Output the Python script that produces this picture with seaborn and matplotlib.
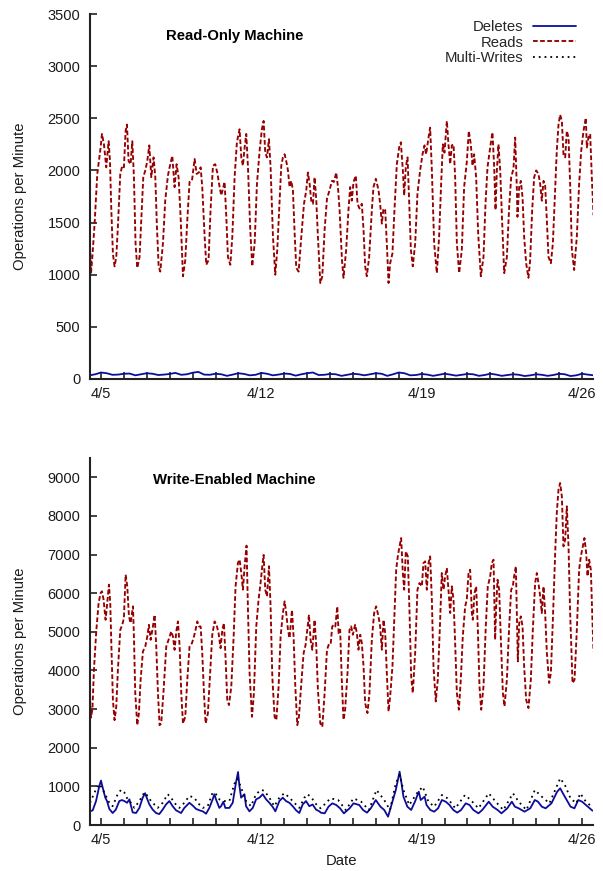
import matplotlib
matplotlib.use('Agg')
import matplotlib.pyplot as plt
import matplotlib.ticker as mticker
import seaborn as sns
import pandas as pd

# hours are counted from 4/4 00:00
START = pd.Timestamp('2009-04-04')
TICK_DAYS = list(range(5, 27))
LABELED_DAYS = [5, 12, 19, 26]

# Read-Only machine, reads per minute (hour, ops)
ro_reads = [
    (12.5, 1280), (13.5, 1010), (15, 1180), (17.3, 1490), (20.1, 1967), (23.6, 2220), (25.0, 2350),
    (27.1, 2250), (29.5, 2030), (32.0, 2280), (33.4, 2090), (34.8, 1620), (36.5, 1200), (38.2, 1080),
    (40.0, 1170), (41.7, 1460), (44.2, 1967), (46.3, 2045), (48.0, 2030), (49.8, 2380), (51.2, 2440),
    (52.9, 2090), (55.0, 2060), (56.8, 2280), (58.5, 1935), (60.2, 1300), (62.0, 1065), (64.4, 1170),
    (66.2, 1520), (68.3, 1935), (70.4, 2000), (72.5, 2090), (74.6, 2240), (76.7, 1935), (79.1, 2125),
    (80.9, 1935), (82.6, 1460), (84.4, 1080), (86.1, 1030), (88.9, 1300), (91.3, 1710), (94.1, 1950),
    (96.6, 2060), (98.7, 2140), (101.1, 1840), (103.2, 2060), (105.3, 1935), (107.4, 1555), (109.9, 985),
    (112.3, 1140), (114.4, 1520), (116.8, 1890), (119.3, 1900), (122.1, 2110), (124.2, 1967), (126.6, 1980),
    (128.4, 2030), (130.1, 1840), (132.6, 1365), (134.3, 1095), (136.7, 1140), (138.8, 1620), (141.3, 2045),
    (143.7, 2060), (145.8, 1980), (148.3, 1840), (150.0, 1760), (151.8, 1825), (153.5, 1890), (155.3, 1555),
    (157.0, 1170), (159.5, 1095), (161.6, 1365), (164.0, 1935), (166.4, 2270), (169.2, 2395), (171.0, 2125),
    (172.7, 2045), (174.5, 2220), (176.2, 2350), (178.0, 2030), (180.4, 1430), (182.5, 1080), (185.0, 1300),
    (187.4, 1870), (190.2, 2190), (192.6, 2395), (194.4, 2475), (196.1, 2170), (197.9, 2125), (200.0, 2300),
    (201.7, 2030), (204.2, 1365), (206.6, 1000), (208.7, 1240), (210.8, 1650), (212.9, 2045), (214.6, 2125),
    (216.4, 2155), (218.1, 2090), (219.9, 2000), (221.6, 1840), (223.4, 1900), (225.1, 1810), (226.9, 1400),
    (228.6, 1065), (231.1, 1030), (233.9, 1365), (236.7, 1680), (239.1, 1810), (240.8, 1980), (242.6, 1870),
    (244.3, 1710), (246.1, 1680), (247.8, 1935), (249.6, 1710), (251.3, 1365), (253.8, 920), (255.9, 985),
    (258.3, 1430), (260.8, 1730), (263.5, 1810), (266.0, 1900), (268.1, 1890), (270.5, 1980), (272.3, 1840),
    (274.0, 1620), (276.5, 1140), (278.1, 970), (280.9, 1240), (283.3, 1620), (285.1, 1840), (286.8, 1710),
    (288.6, 1890), (291.0, 1950), (292.8, 1680), (294.9, 1635), (297.3, 1680), (299.1, 1430), (300.8, 1080),
    (302.5, 985), (305.0, 1170), (307.8, 1620), (309.5, 1840), (312.0, 1920), (314.8, 1810), (316.5, 1680),
    (318.3, 1490), (320.0, 1635), (321.8, 1620), (323.5, 1300), (325.3, 920), (327.0, 1110), (329.4, 1205),
    (331.5, 1620), (334.0, 2060), (336.4, 2220), (338.2, 2270), (340.3, 2000), (341.7, 1760), (343.4, 2030),
    (345.2, 2125), (346.9, 1710), (348.7, 1240), (350.7, 1080), (353.2, 1300), (355.6, 1777), (358.4, 2000),
    (360.9, 2155), (363.0, 2240), (364.7, 2155), (367.2, 2315), (368.9, 2410), (370.7, 2000), (373.1, 1300),
    (375.9, 1015), (378.3, 1365), (380.4, 1870), (382.2, 2250), (383.9, 2170), (386.4, 2475), (388.1, 2250),
    (389.9, 2060), (391.6, 2240), (393.4, 2250), (395.1, 1935), (396.9, 1300), (399.3, 1015), (402.1, 1240),
    (404.5, 1840), (407.3, 2080), (409.4, 2380), (411.5, 2250), (413.3, 2045), (415.0, 2155), (417.1, 1935),
    (419.2, 1400), (422.0, 985), (424.8, 1170), (426.9, 1680), (429.0, 2030), (431.8, 2220), (434.2, 2365),
    (436.0, 2030), (437.4, 1620), (438.8, 2000), (440.5, 2250), (442.3, 2000), (444.0, 1585), (446.5, 1015),
    (449.3, 1170), (451.7, 1650), (453.8, 1935), (456.2, 2015), (458.0, 2315), (459.7, 1840), (460.4, 1555),
    (462.2, 1840), (463.9, 1900), (465.7, 1745), (467.4, 1365), (469.5, 1110), (471.9, 970), (473.7, 1140),
    (475.8, 1620), (477.9, 1935), (480.0, 2000), (482.4, 1967), (484.2, 1870), (485.9, 1710), (487.7, 1900),
    (489.4, 1855), (491.2, 1520), (492.9, 1170), (495.4, 1110), (497.5, 1300), (499.9, 1810), (501.6, 2190),
    (503.4, 2440), (505.1, 2535), (506.9, 2475), (508.6, 2155), (510.4, 2125), (512.1, 2380), (513.9, 2315),
    (515.6, 1870), (517.4, 1240), (519.8, 1045), (522.6, 1365), (525.0, 1870), (527.2, 2190), (529.6, 2380),
    (532.0, 2505), (533.1, 2220), (534.8, 2315), (536.6, 2350), (538.3, 1935), (540.1, 1570),
]

# Read-Only machine, deletes per minute, one value every 6 hours from hour 12
ro_delete_hours = list(range(12, 541, 6))
ro_deletes = [
    35, 45, 62, 55, 40, 42, 50, 52,
    35, 45, 55, 50, 38, 42, 48, 58,
    40, 45, 60, 68, 42, 40, 50, 45,
    30, 42, 55, 48, 35, 40, 58, 50,
    35, 42, 52, 48, 32, 45, 55, 62,
    38, 40, 48, 45, 30, 40, 50, 45,
    35, 45, 55, 50, 30, 45, 62, 55,
    35, 38, 48, 42, 30, 40, 50, 42,
    32, 40, 48, 45, 30, 38, 50, 42,
    30, 38, 45, 40, 28, 35, 45, 40,
    30, 38, 50, 45, 28, 35, 50, 42,
    35,
]
# no multi-writes on the read-only machine
ro_multi_writes = [(12, 0), (540, 0)]

# Write-Enabled machine, reads per minute
we_reads = [
    (12.5, 3250), (13.5, 2780), (15.0, 3000), (16.6, 4013), (19.0, 5010), (21.5, 5745), (23.6, 6005),
    (25.0, 6048), (26.7, 5832), (28.8, 5312), (30.2, 5659), (32.3, 6222), (33.7, 5745), (34.8, 4706),
    (36.5, 3234), (38.2, 2714), (40.0, 3060), (41.7, 4013), (44.2, 5052), (46.3, 5182), (48.0, 5355),
    (49.8, 6481), (51.5, 6178), (53.3, 5399), (55.0, 5226), (57.5, 5659), (58.5, 4879), (59.9, 3407),
    (62.0, 2584), (63.7, 2887), (65.5, 3753), (67.9, 4490), (70.4, 4620), (72.5, 4879), (74.2, 5182),
    (76.0, 4793), (78.4, 5139), (80.2, 5442), (81.9, 4620), (83.7, 3407), (85.4, 2584), (87.1, 2628),
    (89.6, 3494), (92.4, 4620), (94.8, 4793), (97.6, 5010), (99.4, 4879), (101.1, 4533), (102.9, 5010),
    (104.6, 5269), (106.4, 4620), (108.1, 3407), (109.9, 2628), (112.3, 2801), (114.4, 3753), (116.8, 4620),
    (119.3, 4706), (121.4, 4879), (123.1, 5052), (124.9, 5269), (126.6, 5139), (128.4, 5139), (130.1, 4446),
    (131.9, 3407), (133.6, 2628), (136.0, 2887), (138.5, 4013), (140.6, 4923), (143.0, 5269), (145.1, 5182),
    (147.2, 4966), (149.3, 4576), (151.1, 5052), (152.8, 5226), (154.6, 4273), (156.3, 3234), (158.1, 3104),
    (160.5, 3580), (163.0, 4879), (165.0, 6178), (167.5, 6784), (169.2, 6871), (171.0, 6525), (172.7, 6092),
    (174.5, 6698), (176.5, 7230), (178.0, 5572), (179.7, 3927), (182.2, 2801), (184.2, 3407), (186.7, 5139),
    (189.1, 5832), (191.2, 6265), (193.0, 6698), (194.4, 6990), (196.1, 6092), (197.9, 5918), (200.0, 6698),
    (201.7, 5659), (203.5, 3840), (205.9, 2801), (207.7, 2714), (210.1, 3580), (212.2, 4879), (214.6, 5485),
    (216.4, 5789), (218.1, 5485), (219.9, 5052), (221.6, 4836), (224.1, 5572), (225.8, 4879), (227.6, 3580),
    (229.7, 2584), (231.4, 2801), (233.9, 3667), (236.3, 4446), (238.4, 4663), (240.1, 5052), (241.9, 5442),
    (243.6, 4793), (245.4, 4533), (247.8, 5312), (249.6, 4620), (251.3, 3494), (253.8, 2628), (255.9, 2541),
    (258.3, 3407), (260.8, 4533), (262.5, 4663), (264.6, 4663), (266.3, 5139), (268.1, 5182), (269.5, 5139),
    (271.6, 5659), (273.0, 4966), (274.6, 5054), (276.3, 3760), (278.1, 2724), (279.8, 2984), (282.3, 3933),
    (284.4, 5054), (286.1, 5141), (287.9, 4925), (290.3, 5184), (292.1, 4968), (293.8, 4537), (295.6, 4925),
    (297.3, 4709), (299.1, 4105), (300.8, 3156), (303.2, 2897), (305.3, 3415), (307.8, 4796), (310.2, 5486),
    (312.3, 5659), (314.8, 5400), (316.5, 5141), (318.3, 4537), (320.0, 5313), (321.8, 4968), (323.5, 3933),
    (325.3, 2940), (327.0, 3329), (329.4, 4105), (331.5, 5486), (333.3, 6608), (335.0, 6953), (336.8, 7212),
    (338.5, 7428), (340.3, 6522), (341.7, 6090), (343.4, 7083), (345.5, 6953), (347.3, 5486), (349.0, 3846),
    (350.7, 3415), (353.2, 4451), (355.6, 6090), (357.7, 6263), (360.2, 6176), (361.9, 6781), (363.7, 6824),
    (365.4, 6090), (367.2, 6781), (368.9, 6953), (370.7, 5831), (372.4, 4105), (374.8, 3199), (376.9, 3760),
    (379.4, 5313), (381.1, 6522), (382.9, 6090), (384.6, 6436), (386.4, 6651), (388.1, 6090), (389.9, 5486),
    (391.6, 6176), (393.4, 5831), (395.1, 4709), (396.9, 3415), (399.0, 2984), (401.0, 3760), (403.1, 4882),
    (405.6, 5659), (407.3, 5831), (409.1, 6522), (410.8, 6608), (412.6, 5486), (413.6, 5313), (415.4, 6004),
    (417.1, 6176), (418.9, 5054), (420.6, 3588), (422.4, 2984), (424.8, 3588), (427.2, 5141), (429.3, 6176),
    (431.8, 6436), (433.5, 6781), (435.3, 6867), (437.0, 4796), (438.1, 5659), (439.5, 6349), (441.2, 6090),
    (443.0, 4796), (445.1, 3415), (446.8, 3070), (449.3, 3760), (451.7, 5141), (453.8, 6090), (455.5, 6176),
    (456.9, 6436), (458.7, 6694), (459.7, 5486), (460.8, 4235), (462.2, 5227), (463.9, 5400), (465.7, 5141),
    (467.4, 4105), (469.5, 3243), (471.9, 3027), (474.4, 3760), (476.5, 5054), (478.9, 6263), (480.7, 6522),
    (482.4, 6263), (484.2, 5918), (485.9, 5486), (487.7, 6176), (489.4, 5486), (491.2, 4451), (493.6, 3674),
    (495.4, 3933), (497.5, 5313), (499.9, 7040), (501.6, 8075), (503.4, 8679), (505.1, 8852), (506.9, 8507),
    (508.6, 7212), (510.4, 7385), (512.1, 8248), (513.9, 7212), (515.6, 5486), (518.1, 3674), (520.2, 3760),
    (522.6, 5054), (525.0, 6608), (526.8, 6953), (528.9, 7212), (530.6, 7428), (532.4, 7040), (533.8, 6436),
    (535.5, 6867), (537.3, 6608), (538.7, 5486), (540.1, 4494),
]

# Write-Enabled machine, deletes per minute
we_deletes = [
    (12.5, 354), (15.3, 380), (18.8, 620), (22.3, 1018), (24.0, 1150), (25.7, 974), (28.5, 708),
    (30.3, 620), (32.7, 416), (36.2, 310), (39.5, 398), (43.2, 620), (46.0, 646), (48.5, 620),
    (51.3, 575), (53.8, 664), (55.5, 487), (57.2, 327), (60.7, 310), (64.2, 442), (67.7, 708),
    (70.2, 823), (71.9, 708), (74.7, 531), (78.2, 398), (81.7, 310), (85.1, 283), (88.6, 398),
    (92.1, 531), (95.6, 620), (99.1, 487), (102.6, 381), (107.9, 310), (111.3, 442), (116.6, 575),
    (120.1, 504), (123.6, 416), (127.1, 381), (130.6, 354), (134.1, 292), (137.5, 442), (141.0, 664),
    (142.8, 796), (144.5, 664), (148.0, 442), (149.8, 487), (152.2, 602), (154.3, 442), (158.5, 442),
    (162.0, 575), (165.5, 1106), (167.6, 1372), (169.0, 1018), (170.8, 708), (174.3, 797), (176.0, 487),
    (179.5, 354), (183.0, 442), (186.5, 664), (190.0, 708), (193.5, 797), (197.0, 664), (200.4, 575),
    (203.9, 469), (206.7, 354), (210.9, 620), (214.4, 708), (217.9, 620), (221.4, 575), (224.9, 487),
    (228.4, 381), (231.8, 310), (235.3, 531), (238.8, 620), (242.3, 487), (245.8, 531), (249.3, 398),
    (252.8, 354), (254.3, 319), (258.4, 302), (262.4, 475), (266.4, 561), (270.5, 518), (274.5, 432),
    (278.5, 302), (284.5, 432), (288.6, 561), (294.6, 518), (298.6, 389), (302.7, 320), (306.7, 432),
    (311.9, 647), (316.8, 475), (320.8, 389), (324.8, 216), (328.8, 561), (332.9, 906), (336.9, 1380),
    (338.9, 1079), (340.9, 734), (345.0, 475), (349.0, 389), (353.0, 604), (357.0, 863), (359.0, 647),
    (363.1, 734), (365.1, 518), (369.1, 389), (373.1, 345), (377.2, 432), (381.2, 647), (385.2, 604),
    (389.2, 518), (393.2, 389), (397.3, 320), (401.3, 389), (406.2, 561), (410.2, 518), (414.2, 389),
    (419.5, 302), (423.5, 389), (430.3, 604), (434.4, 475), (439.6, 389), (443.6, 302), (449.7, 432),
    (454.5, 604), (457.7, 475), (461.7, 432), (467.8, 345), (473.8, 432), (478.6, 647), (481.9, 604),
    (485.9, 475), (489.9, 432), (496.0, 561), (502.0, 863), (505.2, 950), (508.0, 820), (512.0, 647),
    (516.0, 475), (520.1, 432), (524.1, 647), (528.1, 604), (532.1, 518), (536.2, 432), (539.0, 371),
]

# Write-Enabled machine, multi-writes per minute
we_multi_writes = [
    (12.5, 575), (18.8, 929), (22.3, 1062), (25.7, 929), (29.2, 752), (32.7, 575), (36.2, 487),
    (41.5, 797), (45.0, 911), (48.5, 841), (51.9, 664), (55.4, 575), (58.9, 443), (64.2, 620),
    (69.4, 841), (72.9, 752), (76.4, 620), (79.9, 531), (83.4, 443), (88.6, 575), (93.9, 797),
    (97.4, 708), (100.8, 575), (106.1, 443), (111.3, 575), (116.6, 752), (121.8, 708), (125.3, 575),
    (130.6, 443), (135.8, 487), (141.0, 841), (144.5, 797), (148.0, 664), (153.3, 620), (158.5, 620),
    (163.7, 1062), (167.2, 1195), (170.7, 974), (176.0, 620), (181.2, 487), (186.4, 797), (191.7, 911),
    (195.1, 885), (200.4, 708), (205.6, 487), (210.9, 708), (216.1, 823), (221.4, 708), (226.6, 575),
    (231.8, 443), (237.1, 708), (240.6, 797), (245.8, 664), (251.0, 487), (254.3, 432), (264.4, 690),
    (272.5, 647), (280.5, 388), (288.6, 690), (296.6, 604), (304.7, 388), (312.7, 906), (320.8, 647),
    (326.8, 388), (332.9, 1079), (336.9, 1294), (340.9, 906), (347.0, 518), (355.0, 820), (361.1, 992),
    (367.1, 604), (373.1, 475), (381.2, 777), (387.2, 690), (395.3, 432), (405.4, 777), (411.4, 647),
    (419.5, 432), (430.3, 820), (437.6, 604), (445.6, 388), (455.7, 820), (461.7, 604), (469.8, 388),
    (478.6, 906), (485.9, 733), (493.9, 561), (505.2, 1208), (510.1, 1036), (516.0, 690), (522.1, 561),
    (526.2, 820), (532.1, 604), (538.2, 475),
]


def to_frame(pairs):
    df = pd.DataFrame(pairs, columns=['hour', 'ops'])
    df['date'] = START + pd.to_timedelta(df['hour'], unit='h')
    return df


sns.set_theme(style='ticks')
plt.rcParams['font.family'] = ['Liberation Sans', 'DejaVu Sans']

RED = '#960000'
BLUE = '#0c0c9c'
SPINE = '#222222'

tick_dates = [pd.Timestamp(2009, 4, d) for d in TICK_DAYS]
tick_labels = [f'4/{d}' if d in LABELED_DAYS else '' for d in TICK_DAYS]

fig = plt.figure(figsize=(6.03, 8.71), dpi=100)
ax1 = fig.add_axes([0.1493, 0.5649, 0.8342, 0.4190])
ax2 = fig.add_axes([0.1493, 0.0528, 0.8342, 0.4214])

panels = [
    (ax1, to_frame(list(zip(ro_delete_hours, ro_deletes))), to_frame(ro_reads), to_frame(ro_multi_writes),
     'Read-Only Machine', 3500, 500),
    (ax2, to_frame(we_deletes), to_frame(we_reads), to_frame(we_multi_writes),
     'Write-Enabled Machine', 9500, 1000),
]

for ax, dels, reads, multi, title, ymax, ystep in panels:
    sns.lineplot(data=dels, x='date', y='ops', ax=ax, color=BLUE, lw=1.3, label='Deletes')
    sns.lineplot(data=reads, x='date', y='ops', ax=ax, color=RED, lw=1.35,
                 linestyle=(0, (2.5, 1.3)), label='Reads')
    sns.lineplot(data=multi, x='date', y='ops', ax=ax, color='black', lw=1.3,
                 linestyle=(0, (1, 2.2)), label='Multi-Writes')

    ax.set_xlim(START + pd.Timedelta(hours=12.5), START + pd.Timedelta(hours=539.6))
    ax.set_ylim(0, ymax)
    ax.yaxis.set_major_locator(mticker.MultipleLocator(ystep))
    ax.set_xticks(tick_dates)
    ax.set_xticklabels(tick_labels)
    ax.xaxis.set_minor_locator(mticker.NullLocator())
    ax.yaxis.set_minor_locator(mticker.NullLocator())

    ax.tick_params(axis='both', which='major', direction='in', length=5, width=1.2,
                   color=SPINE, labelsize=10.5, labelcolor='#1a1a1a',
                   bottom=True, left=True, top=False, right=False)
    ax.tick_params(axis='x', which='major', pad=6)
    ax.tick_params(axis='y', which='major', pad=7)

    for side in ['top', 'right']:
        ax.spines[side].set_visible(False)
    for side in ['left', 'bottom']:
        ax.spines[side].set_color(SPINE)
        ax.spines[side].set_linewidth(1.5)

    ax.set_ylabel('Operations per Minute', fontsize=10.7, color='#1a1a1a')
    ax.yaxis.set_label_coords(-0.126, 0.5)
    ax.set_xlabel('')
    ax.text(0.287, 0.94, title, transform=ax.transAxes, ha='center', va='center',
            fontsize=10.7, fontweight='bold', color='black')

ax2.set_xlabel('Date', fontsize=10.7, color='#1a1a1a', labelpad=5)
ax2.get_legend().remove()

ax1.legend(loc='upper right', bbox_to_anchor=(0.966, 0.984), frameon=False, markerfirst=False,
           fontsize=10.7, handlelength=2.9, handletextpad=0.65, labelspacing=0.12,
           borderpad=0, borderaxespad=0)

fig.savefig('out.png', dpi=100)
